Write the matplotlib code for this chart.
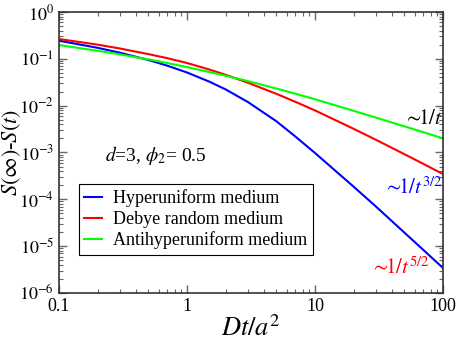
import numpy as np
import matplotlib
matplotlib.use("Agg")
import matplotlib.pyplot as plt
from matplotlib.ticker import LogLocator, NullFormatter

# dimensionless time Dt/a^2 and S(inf)-S(t)
t = [0.1, 0.2, 0.3, 0.5, 0.7, 1, 1.5, 2, 3, 5, 7, 10, 20, 30, 50, 70, 100]
hyper = [0.244, 0.172, 0.135, 0.0944, 0.0716, 0.0511, 0.0324, 0.0223, 0.0119,
         4.63e-3, 2.21e-3, 9.75e-4, 1.87e-4, 6.97e-5, 1.94e-5, 8.37e-6, 3.41e-6]
debye = [0.265, 0.201, 0.166, 0.126, 0.1035, 0.0815, 0.0589, 0.0457, 0.0308,
         0.01786, 0.01213, 7.91e-3, 3.21e-3, 1.86e-3, 9.18e-4, 5.74e-4, 3.46e-4]
anti = [0.197, 0.1486, 0.1245, 0.0973, 0.0815, 0.0667, 0.0522, 0.0437, 0.0334,
        0.0232, 0.01803, 0.01371, 7.76e-3, 5.55e-3, 3.61e-3, 2.72e-3, 2.0e-3]

series = [("Hyperuniform medium", hyper, "#0000ff"),
          ("Debye random medium", debye, "#ff0000"),
          ("Antihyperuniform medium", anti, "#00ff00")]

plt.rcParams["font.family"] = ["Liberation Serif", "DejaVu Serif"]
plt.rcParams["mathtext.fontset"] = "stix"

fig = plt.figure(figsize=(4.57, 3.43), dpi=100)
ax = fig.add_axes([0.1291, 0.1458, 0.8403, 0.8192])

for label, y, c in series:
    ax.plot(t, y, color=c, lw=1.5, label=label)

ax.set_xscale("log")
ax.set_yscale("log")
ax.set_xlim(0.1, 100)
ax.set_ylim(1e-6, 1)
ax.set_xticks([0.1, 1, 10, 100])
ax.set_xticklabels(["0.1", "1", "10", "100"])
ax.set_yticks([1e-6, 1e-5, 1e-4, 1e-3, 1e-2, 1e-1, 1])
ax.set_yticklabels([r"$10^{%d}$" % k for k in range(-6, 1)])
ax.xaxis.set_minor_locator(LogLocator(subs=np.arange(2, 10), numticks=20))
ax.yaxis.set_minor_locator(LogLocator(subs=np.arange(2, 10), numticks=20))
ax.xaxis.set_minor_formatter(NullFormatter())
ax.yaxis.set_minor_formatter(NullFormatter())
ax.tick_params(which="both", direction="in", top=True, right=True,
               color="#666666", labelsize=13)
ax.tick_params(which="major", length=6, width=1)
ax.tick_params(which="minor", length=3, width=0.8)
for s in ax.spines.values():
    s.set_color("#333333")
    s.set_linewidth(1.2)

ax.set_xlabel(r"$Dt/a^2$", fontsize=19, labelpad=0)
ax.set_ylabel(r"$S(\infty)$-$S(t)$", fontsize=16)
ax.yaxis.set_label_coords(-0.095, 0.5)

ax.text(0.12, 0.49, r"$d$=3, $\phi_2$= 0.5", transform=ax.transAxes,
        fontsize=14, va="center")
# power-law tails
ax.text(0.895, 0.616, r"$\sim\!\!1/t$", transform=ax.transAxes, fontsize=15,
        va="center", color="black")
ax.text(0.845, 0.374, r"$\sim\!\!1/t^{3/2}$", transform=ax.transAxes,
        fontsize=15, va="center", color="#0000ff")
ax.text(0.81, 0.089, r"$\sim\!\!1/t^{5/2}$", transform=ax.transAxes,
        fontsize=15, va="center", color="#ff0000")

leg = ax.legend(loc="upper left", bbox_to_anchor=(0.052, 0.388), borderaxespad=0,
                fontsize=13, handlelength=1.0, handletextpad=0.6,
                labelspacing=0.2, borderpad=0.3, fancybox=False, framealpha=1)
leg.get_frame().set_edgecolor("black")
leg.get_frame().set_linewidth(0.8)

fig.savefig("out.png", dpi=100)
